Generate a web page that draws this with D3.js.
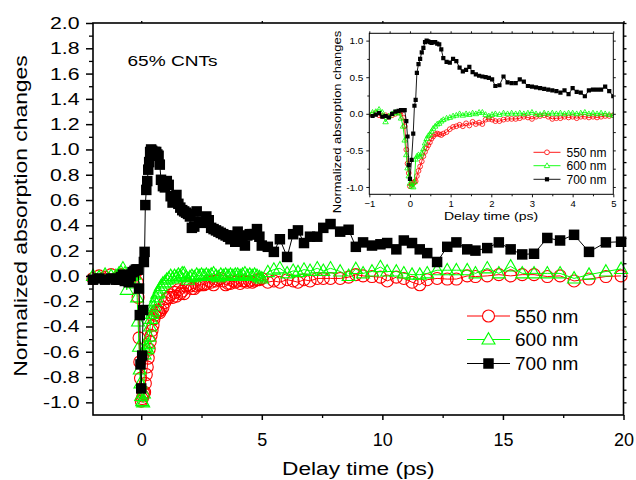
<!DOCTYPE html>
<html>
<head>
<meta charset="utf-8">
<script src="https://cdn.jsdelivr.net/npm/d3@7"></script>
<style>
body { margin: 0; background: #fff; }
svg { display: block; font-family: "Liberation Sans", Arial, sans-serif; }
</style>
</head>
<body>
<script>
// delay times (ps), shared by the three probe wavelengths
const times = [
    -2.0, -1.75, -1.5, -1.25, -1.05, -0.92, -0.84, -0.76, -0.68, -0.6, -0.52, -0.44, -0.36, -0.28, -0.22, -0.17, -0.13, -0.09, -0.06, -0.03,
    0.0, 0.04, 0.08, 0.11, 0.14, 0.17, 0.21, 0.25, 0.29, 0.33, 0.37, 0.41, 0.45, 0.49, 0.53, 0.57, 0.62, 0.67, 0.72, 0.77, 0.82, 0.9, 0.98,
    1.06, 1.14, 1.22, 1.3, 1.38, 1.46, 1.54, 1.62, 1.7, 1.78, 1.86, 1.94, 2.02, 2.1, 2.2, 2.3, 2.4, 2.5, 2.6, 2.7, 2.8, 2.9,
    3.0, 3.1, 3.2, 3.3, 3.4, 3.5, 3.6, 3.7, 3.8, 3.9, 4.0, 4.1, 4.2, 4.3, 4.4, 4.5, 4.6, 4.7, 4.8, 4.9, 5.0,
    5.25, 5.5, 5.75, 6.05, 6.3, 6.5, 6.75, 7.0, 7.3, 7.55, 7.85, 8.25, 8.6, 8.9, 9.2, 9.57, 9.92, 10.2, 10.58, 10.89,
    11.23, 11.55, 11.86, 12.27, 12.69, 13.07, 13.52, 13.86, 14.35, 14.83, 15.32, 15.8, 16.29, 16.84, 17.37, 17.95, 18.57, 19.27, 19.9
];
const abs550 = [
    -0.02, 0.0, -0.01, 0.01, -0.02, -0.01, 0.01, -0.02, -0.03, -0.02, -0.04, -0.02, 0.0, 0.02, 0.03, -0.05, -0.17, -0.49, -0.68, -0.81,
    -0.99, -0.97, -0.95, -0.93, -0.92, -0.85, -0.78, -0.72, -0.65, -0.58, -0.52, -0.47, -0.43, -0.39, -0.34, -0.31, -0.28, -0.27, -0.28, -0.29, -0.27, -0.25, -0.21,
    -0.18, -0.17, -0.15, -0.17, -0.13, -0.16, -0.11, -0.14, -0.12, -0.14, -0.08, -0.07, -0.08, -0.10, -0.10, -0.08, -0.07, -0.07, -0.07, -0.06, -0.04, -0.05,
    -0.07, -0.04, -0.03, -0.02, -0.04, -0.07, -0.06, -0.06, -0.04, -0.05, -0.04, -0.06, -0.04, -0.04, -0.05, -0.04, -0.05, -0.04, -0.03, -0.03, -0.02,
    -0.05, -0.04, -0.05, -0.03, -0.04, -0.05, -0.03, -0.04, -0.02, -0.02, -0.02, -0.02, -0.01, 0.01, 0.0, -0.005, -0.01, -0.04, -0.01, -0.02,
    -0.05, -0.07, -0.03, -0.02, -0.025, -0.025, 0.0, -0.005, 0.0, 0.01, 0.0, 0.01, 0.01, -0.005, 0.0, -0.04, -0.025, -0.005, 0.0
];
const abs600 = [
    0.0, -0.01, 0.01, 0.0, 0.0, 0.02, 0.03, 0.06, 0.02, -0.11, -0.03, 0.0, 0.02, 0.01, -0.06, -0.17, -0.36, -0.56, -0.74, -0.85,
    -0.95, -0.99, -1.0, -0.93, -0.62, -0.58, -0.56, -0.58, -0.54, -0.48, -0.40, -0.34, -0.30, -0.28, -0.24, -0.20, -0.17, -0.14, -0.13, -0.10, -0.08, -0.06, -0.05,
    -0.03, -0.02, 0.0, -0.02, 0.0, -0.01, 0.01, 0.0, 0.02, 0.02, -0.01, -0.03, -0.01, 0.0, -0.01, 0.01, 0.0, 0.01, 0.0, 0.01, 0.0, 0.01,
    0.02, 0.0, -0.01, 0.01, 0.0, 0.01, 0.0, 0.01, 0.0, 0.01, 0.01, 0.0, 0.01, 0.02, 0.0, 0.01, 0.0, 0.01, 0.0, -0.01, -0.02,
    0.03, 0.05, 0.06, 0.02, 0.04, 0.03, 0.05, 0.04, 0.06, 0.04, 0.06, 0.035, 0.0, 0.055, 0.02, 0.035, 0.07, 0.035, 0.035, 0.02,
    0.01, 0.01, 0.02, 0.045, 0.045, 0.045, 0.045, 0.02, 0.06, 0.02, 0.075, 0.02, 0.02, 0.02, 0.02, -0.02, 0.01, 0.035, 0.055
];
const abs700 = [
    -0.03, -0.02, -0.03, -0.02, -0.03, -0.03, -0.01, 0.01, -0.04, -0.03, -0.05, 0.0, 0.03, 0.04, 0.05, 0.05, 0.05, -0.10, -0.31, -0.70,
    -0.89, -0.63, -0.27, 0.11, 0.19, 0.56, 0.68, 0.75, 0.84, 0.90, 0.98, 1.0, 0.99, 0.98, 0.97, 0.98, 0.98, 0.96, 0.95, 0.88, 0.76, 0.71, 0.70,
    0.75, 0.72, 0.63, 0.58, 0.60, 0.64, 0.57, 0.54, 0.52, 0.51, 0.50, 0.49, 0.47, 0.38, 0.39, 0.51, 0.43, 0.42, 0.42, 0.47, 0.44, 0.38,
    0.37, 0.36, 0.35, 0.34, 0.33, 0.32, 0.31, 0.29, 0.32, 0.27, 0.35, 0.30, 0.29, 0.24, 0.32, 0.33, 0.33, 0.33, 0.37, 0.31, 0.24,
    0.23, 0.19, 0.29, 0.15, 0.33, 0.36, 0.26, 0.31, 0.31, 0.38, 0.41, 0.35, 0.365, 0.23, 0.265, 0.24, 0.25, 0.26, 0.21, 0.28,
    0.26, 0.21, 0.18, 0.11, 0.23, 0.265, 0.21, 0.20, 0.22, 0.265, 0.21, 0.17, 0.175, 0.30, 0.28, 0.325, 0.19, 0.265, 0.27
];
const seriesNames = ["550 nm", "600 nm", "700 nm"];
const xTicksMain = [0, 5, 10, 15, 20];
const yTicksMain = [-1.0, -0.8, -0.6, -0.4, -0.2, 0.0, 0.2, 0.4, 0.6, 0.8, 1.0, 1.2, 1.4, 1.6, 1.8, 2.0];
const xTicksInset = [-1, 0, 1, 2, 3, 4, 5];
const yTicksInset = [-1.0, -0.5, 0.0, 0.5, 1.0];

const series = [
    { name: seriesNames[0], values: abs550, color: "#ff0000", kind: "circle" },
    { name: seriesNames[1], values: abs600, color: "#00ff00", kind: "triangle" },
    { name: seriesNames[2], values: abs700, color: "#000000", kind: "square" }
];
series.forEach(s => {
    s.points = times.map((t, i) => ({ t: t, v: s.values[i] })).filter(p => p.v !== undefined);
});

const svg = d3.select('body').append('svg')
    .attr('width', 636)
    .attr('height', 480);

function markerPath(kind, s) {
    if (kind === "square") return `M${-s / 2},${-s / 2}h${s}v${s}h${-s}Z`;
    if (kind === "circle") return d3.symbol(d3.symbolCircle, Math.PI * (s / 2) * (s / 2))();
    const h = s * 0.87;
    return `M0,${-h * 0.6}L${s / 2},${h * 0.4}L${-s / 2},${h * 0.4}Z`;
}

function label(parent, str, x, y, size, sx, anchor, rot) {
    parent.append('text')
        .attr('transform', `translate(${x},${y})` + (rot ? ` rotate(${rot})` : '') + ` scale(${sx},1)`)
        .attr('text-anchor', anchor)
        .attr('font-size', size)
        .attr('fill', '#000')
        .text(str);
}

function drawSeries(g, x, y, sizes, clipId) {
    const line = d3.line().x(d => x(d.t)).y(d => y(d.v));
    const [xa, xb] = x.domain();
    series.forEach(s => {
        const sg = g.append('g');
        if (clipId) sg.attr('clip-path', `url(#${clipId})`);
        sg.append('path')
            .attr('d', line(s.points))
            .attr('fill', 'none')
            .attr('stroke', s.color)
            .attr('stroke-width', sizes.line);
        sg.selectAll('path.m')
            .data(s.points.filter(p => p.t >= xa - 0.3 && p.t <= xb + 0.3))
            .enter()
            .append('path')
            .attr('class', 'm')
            .attr('transform', d => `translate(${x(d.t)},${y(d.v)})`)
            .attr('d', markerPath(s.kind, sizes[s.kind]))
            .attr('fill', s.kind === "square" ? s.color : 'none')
            .attr('stroke', s.color)
            .attr('stroke-width', s.kind === "square" ? 0 : sizes.mstroke);
    });
}

function drawLegend(g, x0, x1, xm, xt, rows, sizes, fontSize) {
    series.forEach((s, i) => {
        g.append('line')
            .attr('x1', x0).attr('x2', x1)
            .attr('y1', rows[i]).attr('y2', rows[i])
            .attr('stroke', s.color)
            .attr('stroke-width', sizes.line);
        g.append('path')
            .attr('transform', `translate(${xm},${rows[i]})`)
            .attr('d', markerPath(s.kind, sizes[s.kind]))
            .attr('fill', s.kind === "square" ? s.color : '#fff')
            .attr('stroke', s.color)
            .attr('stroke-width', s.kind === "square" ? 0 : sizes.mstroke);
        label(g, s.name, xt, rows[i] + fontSize * 0.35, fontSize, 1, 'start');
    });
}

function styleAxis(g, width) {
    g.select('.domain').remove();
    g.selectAll('line').attr('stroke', '#000').attr('stroke-width', width);
}

// ---------------- main chart ----------------
const x = d3.scaleLinear().domain([-2, 20]).range([93, 623.5]);
const y = d3.scaleLinear().domain([-1.1, 2.0]).range([415, 23]);
const main = svg.append('g');
const mainSizes = { line: 1, circle: 12, triangle: 13, square: 10.5, mstroke: 1.1 };

drawSeries(main, x, y, mainSizes, null);

// ticks
const gl = main.append('g').attr('transform', `translate(${x(-2)},0)`)
    .call(d3.axisLeft(y).tickValues(yTicksMain).tickSize(7).tickSizeOuter(0).tickFormat(d => d.toFixed(1)));
styleAxis(gl, 1.5);
gl.selectAll('text').attr('font-size', 17).attr('fill', '#000')
    .attr('x', -13.5 / 1.25).attr('transform', 'scale(1.25,1)');
const glm = main.append('g').attr('transform', `translate(${x(-2)},0)`)
    .call(d3.axisLeft(y).tickValues(d3.range(-9, 20, 2).map(i => i / 10)).tickSize(4).tickSizeOuter(0).tickFormat(''));
styleAxis(glm, 1.3);

const gb = main.append('g').attr('transform', `translate(0,${y(-1.1)})`)
    .call(d3.axisBottom(x).tickValues(xTicksMain).tickSize(5).tickSizeOuter(0).tickFormat(d3.format('d')));
styleAxis(gb, 1.5);
gb.selectAll('text').attr('font-size', 18).attr('fill', '#000').attr('dy', null).attr('y', 31);
const gbm = main.append('g').attr('transform', `translate(0,${y(-1.1)})`)
    .call(d3.axisBottom(x).tickValues([2.5, 7.5, 12.5, 17.5]).tickSize(3).tickSizeOuter(0).tickFormat(''));
styleAxis(gbm, 1.3);

const gt = main.append('g').attr('transform', `translate(0,${y(2.0)})`)
    .call(d3.axisTop(x).tickValues(xTicksMain).tickSize(2).tickSizeOuter(0).tickFormat(''));
styleAxis(gt, 1.3);
const gr = main.append('g').attr('transform', `translate(${x(20)},0)`)
    .call(d3.axisRight(y).tickValues(d3.range(-10, 21).map(i => i / 10)).tickSize(3).tickSizeOuter(0).tickFormat(''));
styleAxis(gr, 1.3);

main.append('rect')
    .attr('x', x(-2)).attr('y', y(2.0))
    .attr('width', x(20) - x(-2)).attr('height', y(-1.1) - y(2.0))
    .attr('fill', 'none').attr('stroke', '#000').attr('stroke-width', 1.6);

label(main, "Delay time (ps)", (x(-2) + x(20)) / 2, 475, 18.6, 1.22, 'middle');
label(main, "Normalized absorption changes", 26.5, 216, 18.6, 1.23, 'middle', -90);
label(main, "65% CNTs", 127.5, 66, 15.5, 1.23, 'start');

drawLegend(main, 467, 510, 488.5, 515, [316, 339.5, 363.5], mainSizes, 19);

// ---------------- inset ----------------
const xi = d3.scaleLinear().domain([-1, 5]).range([369.3, 613.3]);
const yi = d3.scaleLinear().domain([-1.1, 1.1]).range([194.3, 33.3]);
const inset = svg.append('g');
const insetSizes = { line: 0.9, circle: 4.8, triangle: 5.5, square: 4.2, mstroke: 0.8 };

inset.append('clipPath').attr('id', 'insetClip')
    .append('rect')
    .attr('x', xi(-1)).attr('y', yi(1.1))
    .attr('width', xi(5) - xi(-1)).attr('height', yi(-1.1) - yi(1.1));

drawSeries(inset, xi, yi, insetSizes, 'insetClip');

const il = inset.append('g').attr('transform', `translate(${xi(-1)},0)`)
    .call(d3.axisLeft(yi).tickValues(yTicksInset).tickSize(3).tickSizeOuter(0).tickFormat(d => d.toFixed(1)));
styleAxis(il, 0.9);
il.selectAll('text').attr('font-size', 9.5).attr('fill', '#000').attr('x', -6 / 1.05).attr('transform', 'scale(1.05,1)');
const ilm = inset.append('g').attr('transform', `translate(${xi(-1)},0)`)
    .call(d3.axisLeft(yi).tickValues([-0.75, -0.25, 0.25, 0.75]).tickSize(2).tickSizeOuter(0).tickFormat(''));
styleAxis(ilm, 0.9);

const ib = inset.append('g').attr('transform', `translate(0,${yi(-1.1)})`)
    .call(d3.axisBottom(xi).tickValues(xTicksInset).tickSize(3).tickSizeOuter(0).tickFormat(d3.format('d')));
styleAxis(ib, 0.9);
ib.selectAll('text').attr('font-size', 9.5).attr('fill', '#000').attr('dy', null).attr('y', 13.2);
const ibm = inset.append('g').attr('transform', `translate(0,${yi(-1.1)})`)
    .call(d3.axisBottom(xi).tickValues([-0.5, 0.5, 1.5, 2.5, 3.5, 4.5]).tickSize(2).tickSizeOuter(0).tickFormat(''));
styleAxis(ibm, 0.9);
const it = inset.append('g').attr('transform', `translate(0,${yi(1.1)})`)
    .call(d3.axisTop(xi).tickValues(d3.range(-2, 11).map(i => i / 2)).tickSize(2).tickSizeOuter(0).tickFormat(''));
styleAxis(it, 0.9);
const ir = inset.append('g').attr('transform', `translate(${xi(5)},0)`)
    .call(d3.axisRight(yi).tickValues(d3.range(-4, 5).map(i => i / 4)).tickSize(2.5).tickSizeOuter(0).tickFormat(''));
styleAxis(ir, 0.9);

inset.append('rect')
    .attr('x', xi(-1)).attr('y', yi(1.1))
    .attr('width', xi(5) - xi(-1)).attr('height', yi(-1.1) - yi(1.1))
    .attr('fill', 'none').attr('stroke', '#000').attr('stroke-width', 1);

label(inset, "Delay time (ps)", 491, 220, 11.5, 1.22, 'middle');
label(inset, "Normalized absorption changes", 340.5, 122, 11, 1.18, 'middle', -90);

drawLegend(inset, 533.5, 560.5, 547, 566.5, [152.3, 165.7, 179.3], insetSizes, 12);
</script>
</body>
</html>
